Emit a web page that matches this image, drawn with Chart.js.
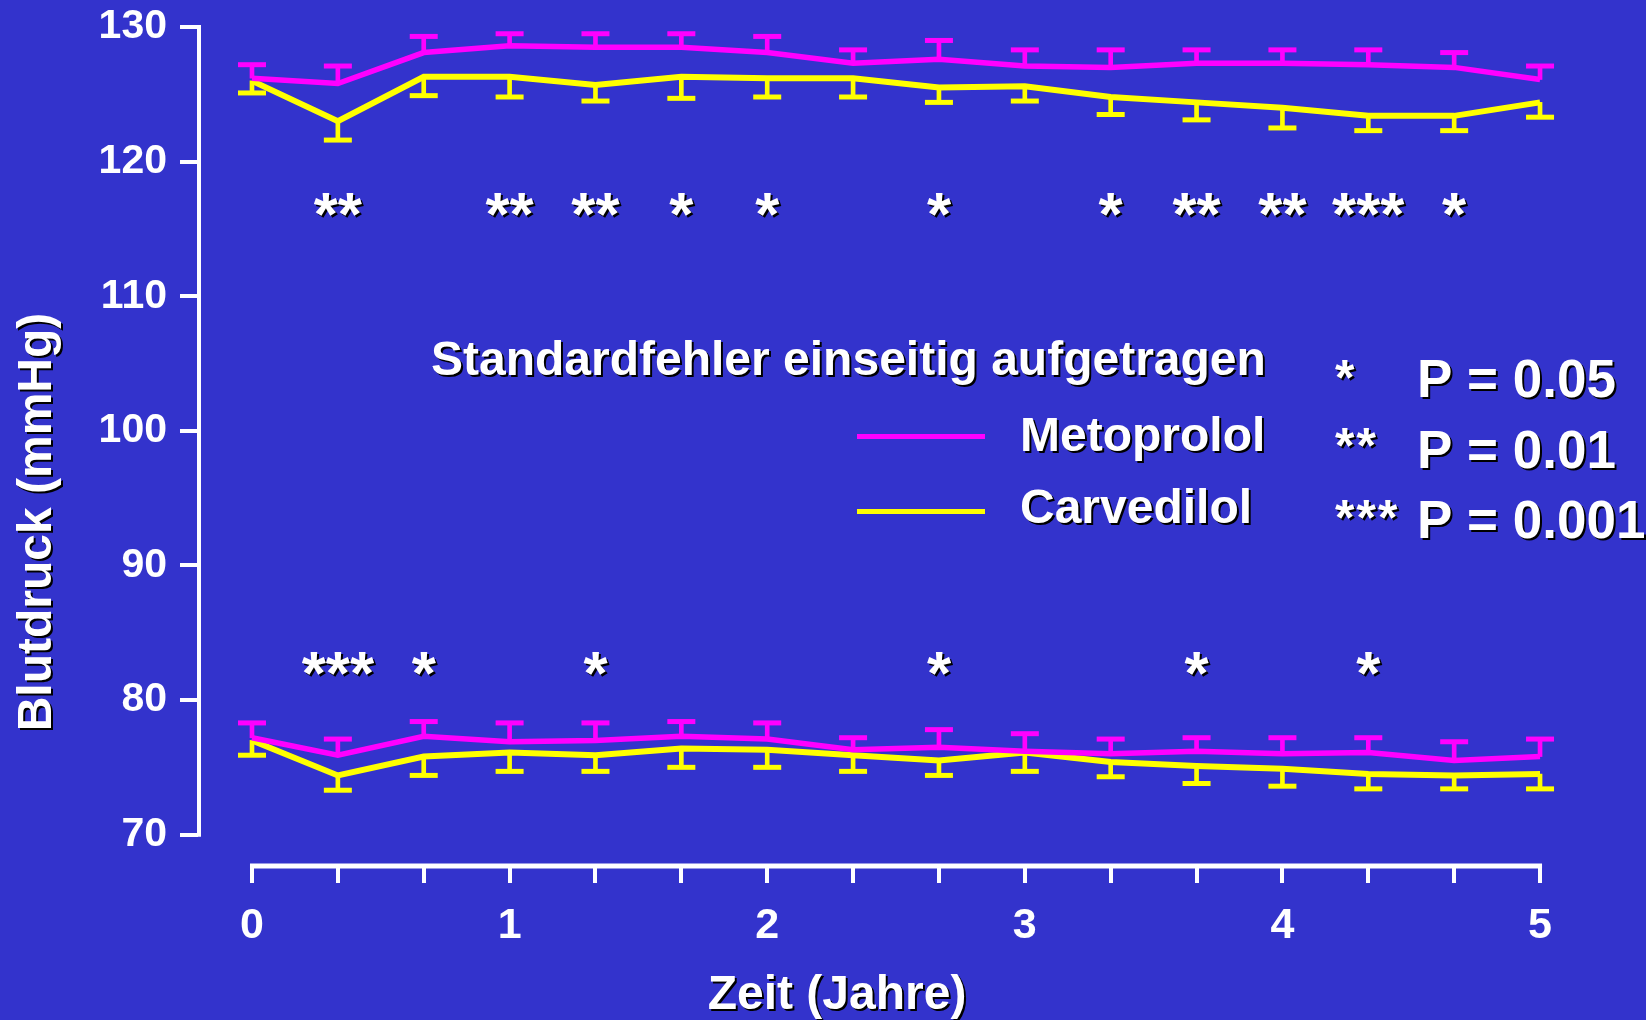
<!DOCTYPE html>
<html>
<head>
<meta charset="utf-8">
<script src="https://cdn.jsdelivr.net/npm/chart.js@4.4.1/dist/chart.umd.min.js"></script>
<style>
  html, body { margin: 0; padding: 0; background: #3333cc; }
  #wrap { width: 1646px; height: 1020px; }
</style>
</head>
<body>
<div id="wrap"><canvas id="bp" width="1646" height="1020"></canvas></div>
<script>
// Messzeitpunkte in Monaten (alle 4 Monate, 0..5 Jahre)
const months = [0, 4, 8, 12, 16, 20, 24, 28, 32, 36, 40, 44, 48, 52, 56, 60];
const yTicks = [70, 80, 90, 100, 110, 120, 130];

// systolisch
const metoSys   = [126.2, 125.8, 128.1, 128.6, 128.5, 128.5, 128.1, 127.3, 127.6, 127.1, 127.0, 127.3, 127.3, 127.2, 127.0, 126.1];
const metoSysSE = [1.0, 1.3, 1.2, 0.9, 1.0, 1.0, 1.2, 1.0, 1.4, 1.2, 1.3, 1.0, 1.0, 1.1, 1.1, 1.0];
const carvSys   = [126.0, 123.0, 126.3, 126.3, 125.7, 126.3, 126.2, 126.2, 125.5, 125.6, 124.8, 124.4, 124.0, 123.4, 123.4, 124.4];
const carvSysSE = [0.9, 1.4, 1.4, 1.5, 1.2, 1.6, 1.4, 1.4, 1.1, 1.1, 1.3, 1.3, 1.5, 1.1, 1.1, 1.1];

// diastolisch
const metoDia   = [77.2, 75.9, 77.3, 76.9, 77.0, 77.3, 77.1, 76.3, 76.5, 76.2, 76.0, 76.2, 76.0, 76.1, 75.5, 75.8];
const metoDiaSE = [1.1, 1.2, 1.1, 1.4, 1.3, 1.1, 1.2, 0.9, 1.3, 1.3, 1.1, 1.0, 1.2, 1.1, 1.4, 1.3];
const carvDia   = [77.0, 74.4, 75.8, 76.1, 75.9, 76.4, 76.3, 75.9, 75.5, 76.1, 75.4, 75.1, 74.9, 74.5, 74.4, 74.5];
const carvDiaSE = [1.1, 1.1, 1.4, 1.4, 1.2, 1.4, 1.3, 1.2, 1.1, 1.4, 1.1, 1.3, 1.3, 1.1, 1.0, 1.1];

// Signifikanzsterne je Zeitpunkt
const sysStars = ['', '**', '', '**', '**', '*', '*', '', '*', '', '*', '**', '**', '***', '*', ''];
const diaStars = ['', '***', '*', '', '*', '', '', '', '*', '', '', '*', '', '*', '', ''];

const pLevels = [['*', 'P = 0.05'], ['**', 'P = 0.01'], ['***', 'P = 0.001']];

const BG = '#3333cc';
const MAGENTA = '#ff00ff';
const YELLOW = '#ffff00';
const FONT = "'Liberation Sans', Arial, sans-serif";

Chart.defaults.font.family = FONT;

// Linie + einseitiger Fehlerbalken (Stiel als schwebender Balken, Kappe als Punkt)
function series(values, se, dir, color, lineWidth, order) {
    const line = {
        type: 'line',
        data: months.map((m, i) => ({ x: m, y: values[i] })),
        borderColor: color,
        borderWidth: lineWidth,
        pointRadius: 0,
        tension: 0,
        order: order
    };
    const stems = {
        type: 'bar',
        data: months.map((m, i) => ({ x: m, y: [values[i], values[i] + dir * se[i]] })),
        backgroundColor: color,
        borderWidth: 0,
        barThickness: 4,
        grouped: false,
        order: order + 2
    };
    const caps = {
        type: 'line',
        data: months.map((m, i) => ({ x: m, y: values[i] + dir * se[i] })),
        showLine: false,
        pointStyle: 'line',
        pointRadius: 14,
        pointHoverRadius: 14,
        pointBorderWidth: 5,
        pointBorderColor: color,
        order: order + 2
    };
    return [line, stems, caps];
}

function shadowText(ctx, text, x, y) {
    ctx.save();
    ctx.shadowColor = '#000';
    ctx.shadowOffsetX = 2;
    ctx.shadowOffsetY = 2;
    ctx.shadowBlur = 0;
    ctx.fillStyle = '#fff';
    ctx.fillText(text, x, y);
    ctx.restore();
}

// Sterne vertikal um eine Mittellinie zentrieren
function starText(ctx, text, x, cy) {
    const m = ctx.measureText('*');
    const base = cy + (m.actualBoundingBoxAscent - m.actualBoundingBoxDescent) / 2;
    shadowText(ctx, text, x, base);
}

const decor = {
    id: 'decor',
    beforeDraw(chart) {
        const ctx = chart.ctx;
        ctx.save();
        ctx.fillStyle = BG;
        ctx.fillRect(0, 0, chart.width, chart.height);
        ctx.restore();
    },
    afterDraw(chart) {
        const ctx = chart.ctx;
        const xs = chart.scales.x;
        const ys = chart.scales.y;
        const area = chart.chartArea;

        // Achsenlinien
        ctx.save();
        ctx.strokeStyle = '#fff';
        ctx.lineWidth = 4;
        ctx.beginPath();
        ctx.moveTo(area.left + 1, ys.getPixelForValue(yTicks[0]) + 2);
        ctx.lineTo(area.left + 1, ys.getPixelForValue(yTicks[yTicks.length - 1]) - 2);
        ctx.stroke();
        ctx.lineWidth = 5;
        ctx.beginPath();
        ctx.moveTo(xs.getPixelForValue(months[0]) - 2, area.bottom);
        ctx.lineTo(xs.getPixelForValue(months[months.length - 1]) + 2, area.bottom);
        ctx.stroke();
        ctx.restore();

        // Signifikanzsterne
        ctx.save();
        ctx.font = `bold 62px ${FONT}`;
        ctx.textAlign = 'center';
        months.forEach((m, i) => {
            const px = xs.getPixelForValue(m);
            if (sysStars[i]) starText(ctx, sysStars[i], px, 204);
            if (diaStars[i]) starText(ctx, diaStars[i], px, 663);
        });
        ctx.restore();

        // Legende
        ctx.save();
        ctx.font = `bold 48px ${FONT}`;
        ctx.textAlign = 'left';
        ctx.textBaseline = 'alphabetic';
        shadowText(ctx, 'Standardfehler einseitig aufgetragen', 431, 375);
        shadowText(ctx, 'Metoprolol', 1020, 451);
        shadowText(ctx, 'Carvedilol', 1020, 523);
        ctx.lineWidth = 5;
        ctx.strokeStyle = MAGENTA;
        ctx.beginPath(); ctx.moveTo(857, 436.5); ctx.lineTo(985, 436.5); ctx.stroke();
        ctx.strokeStyle = YELLOW;
        ctx.beginPath(); ctx.moveTo(857, 511.5); ctx.lineTo(985, 511.5); ctx.stroke();

        const rowsBase = [397, 468, 538];
        const rowsStar = [369.5, 437.5, 509.5];
        pLevels.forEach((p, i) => {
            ctx.font = `bold 50px ${FONT}`;
            ctx.letterSpacing = '2px';
            starText(ctx, p[0], 1335, rowsStar[i]);
            ctx.letterSpacing = '0px';
            ctx.font = `bold 53px ${FONT}`;
            shadowText(ctx, p[1], 1417, rowsBase[i]);
        });
        ctx.restore();

        // Achsentitel
        ctx.save();
        ctx.font = `bold 48px ${FONT}`;
        ctx.textAlign = 'center';
        shadowText(ctx, 'Zeit (Jahre)', 837, 1009);
        ctx.translate(38, 522);
        ctx.rotate(-Math.PI / 2);
        ctx.textBaseline = 'middle';
        shadowText(ctx, 'Blutdruck (mmHg)', 0, 0);
        ctx.restore();
    }
};

const datasets = [
    ...series(metoSys, metoSysSE, 1, MAGENTA, 5.5, 0),
    ...series(carvSys, carvSysSE, -1, YELLOW, 6, 1),
    ...series(metoDia, metoDiaSE, 1, MAGENTA, 5.5, 0),
    ...series(carvDia, carvDiaSE, -1, YELLOW, 6, 1)
];

new Chart(document.getElementById('bp'), {
    type: 'line',
    data: { datasets },
    options: {
        responsive: false,
        animation: false,
        devicePixelRatio: 1,
        events: [],
        layout: { padding: { top: 27, right: 86, left: 0, bottom: 0 } },
        plugins: {
            legend: { display: false },
            tooltip: { enabled: false }
        },
        scales: {
            x: {
                type: 'linear',
                min: -2.515,
                max: 60.93,
                offset: false,
                afterBuildTicks: s => { s.ticks = months.map(v => ({ value: v })); },
                afterFit: s => { s.height = 154; s.paddingLeft = 0; s.paddingRight = 0; },
                border: { display: false },
                grid: { offset: false, drawOnChartArea: false, drawTicks: true, tickLength: 17, lineWidth: 4, color: '#fff' },
                ticks: {
                    autoSkip: false,
                    maxRotation: 0,
                    padding: 17,
                    color: '#fff',
                    font: { size: 43, weight: 'bold' },
                    callback: v => (v % 12 === 0 ? String(v / 12) : '')
                }
            },
            y: {
                type: 'linear',
                min: 67.67,
                max: 130,
                afterBuildTicks: s => { s.ticks = yTicks.map(v => ({ value: v })); },
                afterFit: s => { s.width = 198; s.paddingTop = 0; s.paddingBottom = 0; },
                border: { display: false },
                grid: { drawOnChartArea: false, drawTicks: true, tickLength: 18, lineWidth: 4, color: '#fff' },
                ticks: {
                    padding: 13,
                    color: '#fff',
                    font: { size: 41, weight: 'bold' }
                }
            }
        }
    },
    plugins: [decor]
});
</script>
</body>
</html>
